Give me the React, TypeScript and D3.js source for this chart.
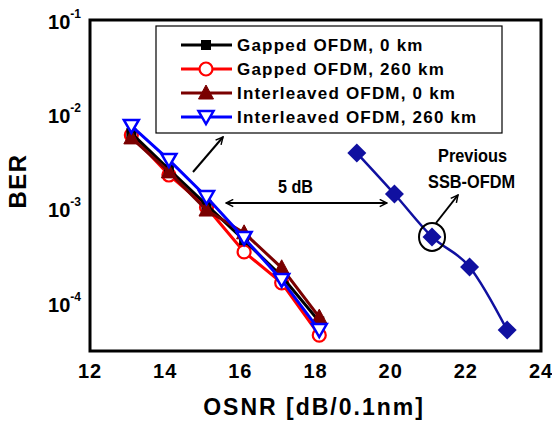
import React from "react";
import * as d3 from "d3";

const osnrA = [13.1, 14.1, 15.1, 16.1, 17.1, 18.1];
const gapped0 = [6.3e-3, 2.6e-3, 1.09e-3, 4.6e-4, 1.9e-4, 6.3e-5];
const gapped260 = [6.0e-3, 2.26e-3, 1.03e-3, 3.45e-4, 1.62e-4, 4.5e-5];
const inter0 = [5.6e-3, 2.44e-3, 9.6e-4, 5.5e-4, 2.34e-4, 7.0e-5];
const inter260 = [7.5e-3, 3.27e-3, 1.32e-3, 4.85e-4, 1.74e-4, 5.1e-5];
const osnrPrev = [19.1, 20.1, 21.1, 22.1, 23.1];
const prevSSB = [3.87e-3, 1.42e-3, 4.98e-4, 2.39e-4, 5.1e-5];

const xTicks = [12, 14, 16, 18, 20, 22, 24];
const yTickExps = [-1, -2, -3, -4];
const legendLabels = [
  "Gapped OFDM, 0 km",
  "Gapped OFDM, 260 km",
  "Interleaved OFDM, 0 km",
  "Interleaved OFDM, 260 km",
];

const W = 552, H = 424;
const L = 90, R = 541, T = 20, B = 351;
const FONT = "'Liberation Sans', Arial, sans-serif";

type Marker = "square" | "circle" | "tri" | "itri" | "diamond";

function MarkerShape({ kind, x, y, color }: { kind: Marker; x: number; y: number; color: string }) {
  if (kind === "square") return <rect x={x - 5} y={y - 5} width={10} height={10} fill={color} />;
  if (kind === "circle")
    return <circle cx={x} cy={y} r={6.5} fill="#fff" stroke={color} strokeWidth={2.2} />;
  if (kind === "tri") {
    const p = `${x},${y - 8} ${x + 7.5},${y + 6} ${x - 7.5},${y + 6}`;
    return <polygon points={p} fill={color} stroke={color} strokeWidth={1} />;
  }
  if (kind === "itri") {
    const p = `${x - 7.5},${y - 6} ${x + 7.5},${y - 6} ${x},${y + 7}`;
    return <polygon points={p} fill="#fff" stroke={color} strokeWidth={2.5} strokeLinejoin="miter" />;
  }
  const p = `${x},${y - 9.5} ${x + 9.5},${y} ${x},${y + 9.5} ${x - 9.5},${y}`;
  return <polygon points={p} fill={color} />;
}

export default function App() {
  const x = d3.scaleLinear().domain([12, 24]).range([L, R]);
  const y = d3.scaleLog().domain([3.06e-5, 0.1]).range([B, T]);

  const series = [
    { vals: gapped260, color: "#ff0000", m: "circle" as Marker },
    { vals: gapped0, color: "#000000", m: "square" as Marker },
    { vals: inter0, color: "#7a0000", m: "tri" as Marker },
    { vals: inter260, color: "#0000ff", m: "itri" as Marker },
  ];
  const legendOrder = [
    { color: "#000000", m: "square" as Marker },
    { color: "#ff0000", m: "circle" as Marker },
    { color: "#7a0000", m: "tri" as Marker },
    { color: "#0000ff", m: "itri" as Marker },
  ];

  const line = d3
    .line<number>()
    .x((_, i) => x(osnrA[i]))
    .y((d) => y(d));
  const prevLine = d3
    .line<number>()
    .x((_, i) => x(osnrPrev[i]))
    .y((d) => y(d))
    .curve(d3.curveMonotoneX);

  const navy = "#1010a0";
  const arrowY = y(1.14e-3);
  const circX = x(osnrPrev[2]);
  const circY = y(prevSSB[2]);

  return (
    <svg width={W} height={H} style={{ position: "absolute", left: 0, top: 0, background: "#fff" }} fontFamily={FONT}>
      <defs>
        <marker id="ah" viewBox="0 0 10 10" refX="9" refY="5" markerWidth="9" markerHeight="9" orient="auto-start-reverse" markerUnits="userSpaceOnUse">
          <path d="M1,1 L9,5 L1,9" fill="none" stroke="#000" strokeWidth={1.6} />
        </marker>
      </defs>
      <rect x={0} y={0} width={W} height={H} fill="#fff" />

      {/* series */}
      {series.map((s, k) => (
        <g key={k}>
          <path d={line(s.vals) || ""} fill="none" stroke={s.color} strokeWidth={3} />
          {s.vals.map((v, i) => (
            <MarkerShape key={i} kind={s.m} x={x(osnrA[i])} y={y(v)} color={s.color} />
          ))}
        </g>
      ))}
      <path d={prevLine(prevSSB) || ""} fill="none" stroke={navy} strokeWidth={2.5} />
      {prevSSB.map((v, i) => (
        <MarkerShape key={i} kind="diamond" x={x(osnrPrev[i])} y={y(v)} color={navy} />
      ))}

      {/* frame */}
      <rect x={L} y={T} width={R - L} height={B - T} fill="none" stroke="#000" strokeWidth={3} />

      {/* x ticks */}
      {xTicks.map((t) => (
        <text key={t} x={x(t)} y={378} textAnchor="middle" fontSize={20} fontWeight="bold" letterSpacing={1}>
          {t}
        </text>
      ))}
      {/* y ticks */}
      {yTickExps.map((e) => (
        <text key={e} x={81} y={y(Math.pow(10, e)) + 9} textAnchor="end" fontSize={20} fontWeight="bold">
          10
          <tspan fontSize={12} dy={-11}>{e}</tspan>
        </text>
      ))}

      {/* axis titles */}
      <text x={314} y={415} textAnchor="middle" fontSize={23} fontWeight="bold" letterSpacing={2}>
        OSNR [dB/0.1nm]
      </text>
      <text transform="translate(26,181) rotate(-90)" textAnchor="middle" fontSize={24} fontWeight="bold" letterSpacing={1.5}>
        BER
      </text>

      {/* legend */}
      <rect x={156} y={26} width={346} height={107} fill="#fff" stroke="#000" strokeWidth={1.2} />
      {legendLabels.map((lab, i) => {
        const ly = 45 + i * 24;
        const s = legendOrder[i];
        return (
          <g key={lab}>
            <line x1={181} x2={232} y1={ly} y2={ly} stroke={s.color} strokeWidth={3} />
            <MarkerShape kind={s.m} x={206} y={ly} color={s.color} />
            <text x={237} y={ly + 6} fontSize={17} fontWeight="bold" letterSpacing={1.2}>
              {lab}
            </text>
          </g>
        );
      })}

      {/* annotations */}
      <line x1={193} y1={172} x2={223} y2={137} stroke="#000" strokeWidth={2} markerEnd="url(#ah)" />
      <line x1={x(15.62)} y1={arrowY} x2={x(19.9)} y2={arrowY} stroke="#000" strokeWidth={2} markerStart="url(#ah)" markerEnd="url(#ah)" />
      <text x={278} y={193} fontSize={18} fontWeight="bold" textLength={35} lengthAdjust="spacingAndGlyphs">
        5 dB
      </text>
      <ellipse cx={circX} cy={circY} rx={13} ry={14} fill="none" stroke="#000" strokeWidth={2} />
      <line x1={436} y1={223} x2={458} y2={195} stroke="#000" strokeWidth={2} markerEnd="url(#ah)" />
      <text x={438} y={162} fontSize={19} fontWeight="bold" textLength={69} lengthAdjust="spacingAndGlyphs">
        Previous
      </text>
      <text x={428} y={188} fontSize={19} fontWeight="bold" textLength={87} lengthAdjust="spacingAndGlyphs">
        SSB-OFDM
      </text>
    </svg>
  );
}
